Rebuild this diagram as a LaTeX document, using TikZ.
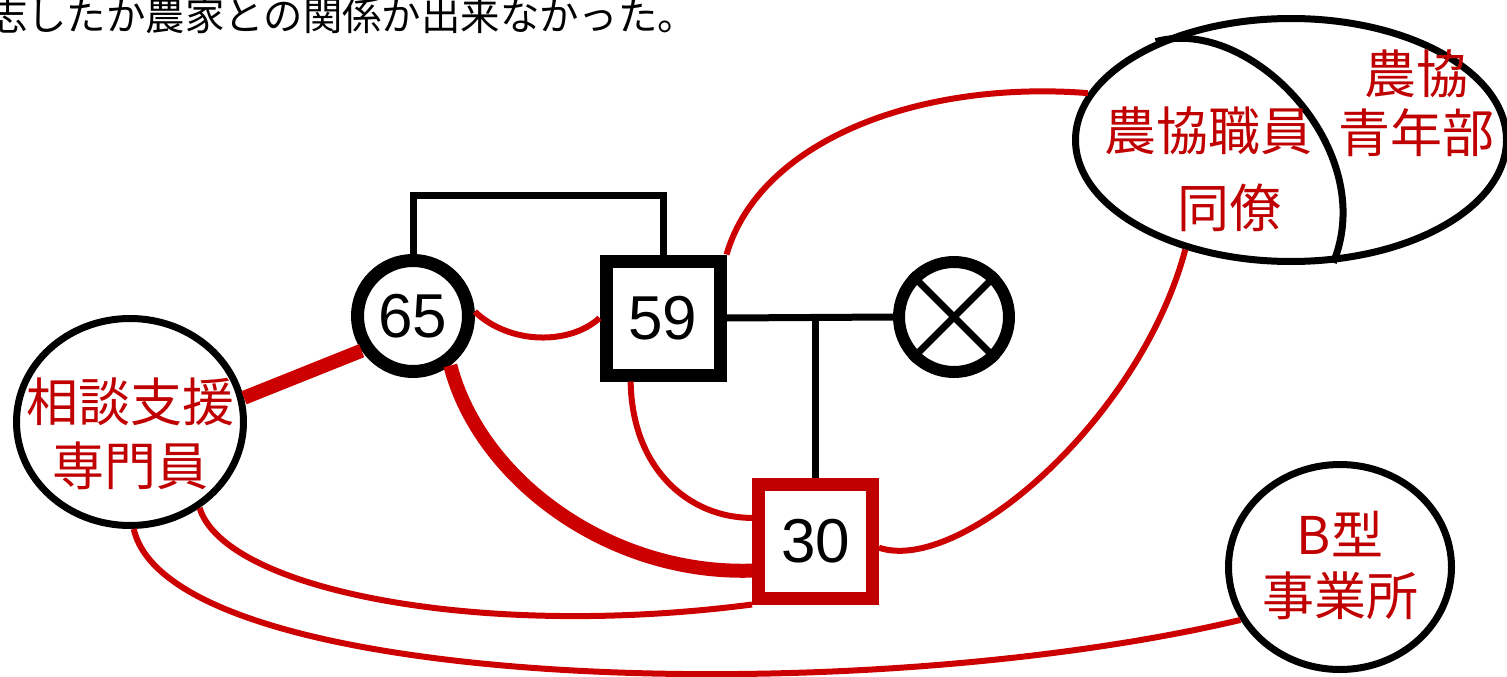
\documentclass[tikz,border=0pt]{standalone}
\usepackage{fontspec}
\setmainfont{Liberation Sans}
\newfontfamily\jp{Noto Sans CJK JP}
\usetikzlibrary{shapes.geometric}
\definecolor{kinred}{HTML}{C00000}
\definecolor{linered}{HTML}{CC0000}

\tikzset{
    person/.style={draw, inner sep=0pt, font=\fontsize{62}{62}\selectfont},
    male/.style={person, rectangle, minimum size=114pt, line width=13pt},
    female/.style={person, circle, minimum size=111pt, line width=13pt},
    support/.style={draw, ellipse, line width=7pt, inner sep=0pt},
    lbl/.style={inner sep=0pt, align=center, text=kinred, font=\jp\fontsize{52}{64}\selectfont},
    kin/.style={line width=7pt},
    tie/.style={draw=linered, line width=6pt},
    strongtie/.style={draw=linered, line width=14pt}
}

\begin{document}
\begin{tikzpicture}[x=1pt, y=-1pt]
        \useasboundingbox (0,0) rectangle (1507,677);

        % Note on top
        \node[anchor=base west, inner sep=0pt, font=\jp\fontsize{39.4}{39.4}\selectfont] (note) at (-12,31) {志したか農家との関係か出来なかった。};

        % Family
        \node[female] (p65) at (413,316) {65};
        \node[male] (p59) at (663,318) {59};
        \node[person, circle, minimum size=110pt, line width=12pt] (pX) at (954,317) {};
        \draw[line width=7pt] (pX.45) -- (pX.225) (pX.135) -- (pX.-45);
        \node[male, draw=kinred] (p30) at (815.5,541) {30};

        % Family lines
        \coordinate (couple) at (540,195);
        \draw[kin] (p65.north) |- (couple) -| (p59.north);
        \draw[kin] (p59.east) -- (pX.west);
        \draw[kin] (p30.north) -- (p30.north |- p59.east);

        % Supporters
        \node[support, minimum width=227pt, minimum height=207pt] (soudan) at (130,422) {};
        \node[lbl] (soudan-t) at ([yshift=-12pt]soudan.center) {相談支援\\専門員};
        \node[support, minimum width=223pt, minimum height=205pt] (btype) at (1340,567) {};
        \node[lbl, font=\jp\fontsize{52}{61}\selectfont] (btype-t) at ([yshift=2pt]btype.center) {B型\\事業所};

        % JA ellipse
        \node[support, minimum width=431pt, minimum height=243pt] (nokyo) at (1291,140) {};
        \draw[line width=7pt] (nokyo.144) .. controls (1250,15) and (1380,150) .. (nokyo.-71);
        \node[lbl] (shokuin) at (1208,131) {農協職員};
        \node[lbl] (douryou) at (1229,208) {同僚};
        \node[lbl, font=\jp\fontsize{52}{59}\selectfont] (seinen) at (1416,103) {農協\\青年部};

        % Relations
        \draw[tie] (p59.north east) .. controls (760,140) and (920,80) .. (nokyo.167);
        \draw[tie] (p65.4) .. controls (510,345) and (570,345) .. (p59.west);
        \draw[strongtie] (p65.214) -- (soudan.12);
        \draw[strongtie] (p65.-53) .. controls (480,480) and (610,575) .. (p30.205);
        \draw[tie] (p59.-117) .. controls (632,470) and (690,518) .. (p30.160);
        \draw[tie] (p30.-6) .. controls (960,575) and (1140,420) .. (nokyo.226);
        \draw[tie] (soudan.-51) .. controls (225,590) and (480,640) .. (p30.south west);
        \draw[tie] (soudan.-88) .. controls (170,690) and (850,712) .. (btype.208);
\end{tikzpicture}
\end{document}
